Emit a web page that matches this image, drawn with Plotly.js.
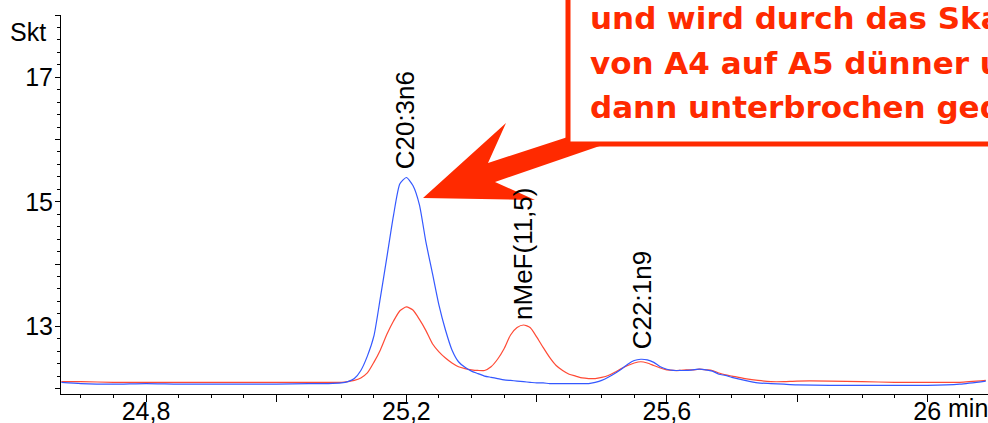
<!DOCTYPE html>
<html>
<head>
<meta charset="utf-8">
<script src="https://cdn.plot.ly/plotly-3.0.1.min.js"></script>
<style>html,body{margin:0;padding:0;background:#fff;}#chart{width:988px;height:423px;}</style>
</head>
<body>
<div id="chart"></div>
<script>
// Retention time (min)
const timeMin = [24.67,24.70,24.75,24.80,24.85,24.90,24.95,25.00,25.05,25.08,25.10,25.11,25.12,25.13,25.14,25.15,25.16,25.17,25.18,25.19,25.20,25.21,25.22,25.23,25.24,25.25,25.26,25.27,25.28,25.29,25.30,25.31,25.32,25.33,25.34,25.35,25.36,25.37,25.38,25.39,25.40,25.41,25.42,25.43,25.44,25.45,25.46,25.47,25.48,25.49,25.50,25.51,25.52,25.53,25.54,25.55,25.56,25.57,25.58,25.59,25.60,25.61,25.62,25.63,25.64,25.65,25.66,25.67,25.68,25.69,25.70,25.72,25.74,25.76,25.78,25.80,25.85,25.90,25.95,26.00,26.05,26.09];
// Blue trace (Skt)
const blueSignal = [12.10,12.08,12.07,12.08,12.07,12.07,12.07,12.07,12.08,12.08,12.09,12.11,12.16,12.29,12.52,12.84,13.46,14.11,14.77,15.29,15.39,15.26,14.95,14.35,13.85,13.34,12.94,12.62,12.43,12.34,12.28,12.24,12.20,12.18,12.16,12.14,12.13,12.12,12.11,12.10,12.09,12.09,12.08,12.08,12.08,12.08,12.08,12.08,12.08,12.10,12.13,12.18,12.24,12.31,12.39,12.45,12.47,12.46,12.42,12.35,12.31,12.29,12.29,12.29,12.30,12.31,12.30,12.28,12.23,12.21,12.18,12.13,12.09,12.08,12.07,12.06,12.05,12.05,12.05,12.05,12.07,12.12];
// Red trace (Skt)
const redSignal = [12.11,12.11,12.10,12.10,12.10,12.10,12.10,12.10,12.10,12.10,12.10,12.11,12.13,12.17,12.25,12.42,12.62,12.87,13.08,13.25,13.31,13.26,13.11,12.93,12.72,12.59,12.49,12.41,12.35,12.32,12.30,12.29,12.29,12.35,12.47,12.64,12.86,12.98,13.02,12.98,12.83,12.66,12.50,12.37,12.29,12.23,12.20,12.17,12.16,12.16,12.18,12.21,12.26,12.32,12.37,12.41,12.43,12.41,12.37,12.33,12.30,12.29,12.29,12.30,12.30,12.31,12.30,12.29,12.25,12.22,12.20,12.16,12.13,12.11,12.11,12.12,12.12,12.11,12.10,12.10,12.10,12.13];
// Peak labels
const peakNames = ["C20:3n6","nMeF(11,5)","C22:1n9"];
const peakTimes = [25.198,25.379,25.562];
const peakLabelY = [16.31,14.16,13.42];
// Axis ticks
const xTickVals = [24.8,25.0,25.2,25.4,25.6,25.8,26.0];
const xTickText = ["24,8","","25,2","","25,6","","26"];
const yTickVals = [12,13,14,15,16,17,18];
const yTickText = ["","13","","15","","17",""];
// Callout text
const calloutLines = ["und wird durch das Skalieren","von A4 auf A5 dünner und","dann unterbrochen gedruckt"];

const L=61, T=15, W=927, H=379;
const px = x => (x-L)/W;
const py = y => (T+H-y)/H;
const RED = '#ff2a00';
const FONT = 'Liberation Sans, Arial, sans-serif';

const traces = [
  {x: timeMin, y: redSignal, type:'scatter', mode:'lines', line:{color:'#ff4a35', width:1.2, shape:'spline', smoothing:0.6}, hoverinfo:'skip'},
  {x: timeMin, y: blueSignal, type:'scatter', mode:'lines', line:{color:'#3458ff', width:1.2, shape:'spline', smoothing:0.6}, hoverinfo:'skip'}
];

const annotations = [];
peakNames.forEach((n,i)=>annotations.push({
  x: peakTimes[i], y: peakLabelY[i], xref:'x', yref:'y', text:n, showarrow:false,
  textangle:-90, xanchor:'center', yanchor:'middle', font:{family:FONT, size:26, color:'#000'}
}));
annotations.push({x:px(8), y:py(32), xref:'paper', yref:'paper', text:'Skt', showarrow:false, xanchor:'left', yanchor:'middle', font:{family:FONT,size:25,color:'#000'}});
annotations.push({x:px(946), y:py(408), xref:'paper', yref:'paper', text:'min', showarrow:false, xanchor:'left', yanchor:'middle', font:{family:FONT,size:25,color:'#000'}});
const lineCenters = [18, 63, 107];
calloutLines.forEach((t,i)=>annotations.push({
  x:px(588), y:py(lineCenters[i]), xref:'paper', yref:'paper', text:'<b>'+t+'</b>', showarrow:false,
  xanchor:'left', yanchor:'middle', align:'left', font:{family:'DejaVu Sans, sans-serif', size:31, color:RED}
}));

const arrowPath = 'M '+[[423,198],[506,123],[488,163],[580,133],[620,139],[495,182],[535,200]].map(p=>px(p[0])+','+py(p[1])).join(' L ')+' Z';

const layout = {
  width:988, height:423,
  margin:{l:L, r:0, t:T, b:423-T-H, pad:0},
  paper_bgcolor:'#fff', plot_bgcolor:'#fff',
  showlegend:false,
  xaxis:{range:[24.6694,26.0934], showline:true, linecolor:'#000', linewidth:1, mirror:false,
    ticks:'outside', tickvals:xTickVals, ticktext:xTickText, ticklen:7, tickcolor:'#000', tickwidth:1,
    ticklabelstandoff:-12,
    minor:{dtick:0.05, tick0:24.8, ticks:'outside', ticklen:3, tickcolor:'#000', showgrid:false},
    showgrid:false, zeroline:false, tickfont:{family:FONT, size:25, color:'#000'}},
  yaxis:{range:[11.912,18.0], showline:true, linecolor:'#000', linewidth:1,
    ticks:'outside', tickvals:yTickVals, ticktext:yTickText, ticklen:5, tickcolor:'#000', tickwidth:1,
    ticklabelstandoff:-3,
    minor:{dtick:0.2, tick0:12, ticks:'outside', ticklen:3, tickcolor:'#000', showgrid:false},
    showgrid:false, zeroline:false, tickfont:{family:FONT, size:25, color:'#000'}},
  shapes:[
    {type:'path', xref:'paper', yref:'paper', path:arrowPath, fillcolor:RED, line:{width:0}, layer:'above'},
    {type:'rect', xref:'paper', yref:'paper', x0:px(568), x1:px(1300), y0:py(144), y1:py(-40), fillcolor:'#fff', line:{color:RED, width:5}, layer:'above'}
  ],
  annotations:annotations
};
Plotly.newPlot('chart', traces, layout, {displayModeBar:false, staticPlot:true});
</script>
</body>
</html>
